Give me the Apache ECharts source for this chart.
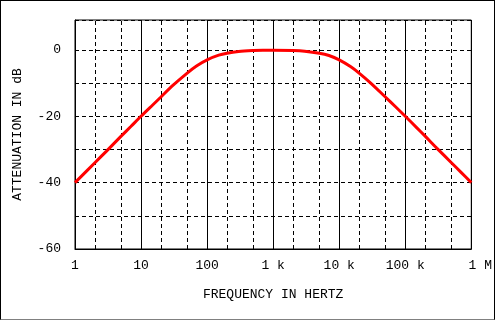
<!DOCTYPE html>
<html>
<head>
<meta charset="utf-8">
<script src="https://cdn.jsdelivr.net/npm/echarts@6/dist/echarts.min.js"></script>
<style>
html,body{margin:0;padding:0;background:#fff;}
#wrap{position:relative;width:495px;height:320px;}
#chart{width:495px;height:320px;}
#frame{position:absolute;left:0;top:0;width:495px;height:320px;box-sizing:border-box;border:1px solid #000;border-bottom-color:#808080;pointer-events:none;}
</style>
</head>
<body>
<div id="wrap"><div id="chart"></div><div id="frame"></div></div>
<script>
const freqs = [1,2,3,5,7,10,15,20,30,50,70,100,150,200,300,500,700,1000,2000,3000,5000,7000,10000,15000,20000,30000,50000,70000,100000,150000,200000,300000,500000,700000,1000000];
const atten = [-40,-34,-30.5,-26,-23.1,-20,-16.6,-14.2,-10.8,-7,-4.8,-3,-1.6,-1,-0.5,-0.2,-0.1,-0.1,-0.2,-0.4,-1,-1.7,-3,-5.1,-7,-10,-14.2,-17,-20,-23.5,-26,-29.6,-34,-36.9,-40];
const xTickValues = [1,10,100,1000,10000,100000,1000000];
const xTickLabels = ['1','10','100','1 k','10 k','100 k','1 M'];
const yTickLabels = [-60,-40,-20,0];
const minorGrid = [2,5,20,50,200,500,2000,5000,20000,50000,200000,500000];

const font = 'Liberation Mono';
const chart = echarts.init(document.getElementById('chart'));
chart.setOption({
  animation:false,
  backgroundColor:'#fff',
  grid:{left:75,right:20,top:20,bottom:71,show:true,borderColor:'#000',borderWidth:1,backgroundColor:'transparent'},
  xAxis:{
    type:'log',logBase:10,min:1,max:1000000,
    name:'FREQUENCY IN HERTZ',nameLocation:'middle',nameGap:39,
    nameTextStyle:{fontFamily:font,fontSize:13,color:'#000'},
    axisLine:{show:true,onZero:false,lineStyle:{color:'#000',width:1}},
    axisTick:{show:false},
    axisLabel:{fontFamily:font,fontSize:13,color:'#000',margin:10,
      formatter:function(v){
        const i = xTickValues.findIndex(t=>Math.abs(t-v)/t<1e-6);
        if(i<0) return '';
        if(i===xTickValues.length-1) return '{r|'+xTickLabels[i]+'}';
        return xTickLabels[i];
      },
      rich:{r:{fontFamily:font,fontSize:13,color:'#000',padding:[0,0,0,18]}}
    },
    splitLine:{show:true,lineStyle:{color:'#000',width:1,type:'solid'}},
    minorSplitLine:{show:false}
  },
  yAxis:{
    type:'value',min:-60,max:9,interval:10,
    name:'ATTENUATION IN dB',nameLocation:'middle',nameGap:51,
    nameTextStyle:{fontFamily:font,fontSize:13,color:'#000'},
    axisLine:{show:true,onZero:false,lineStyle:{color:'#000',width:1}},
    axisTick:{show:false},
    axisLabel:{fontFamily:font,fontSize:13,color:'#000',margin:14,
      formatter:function(v){ return yTickLabels.indexOf(v)>=0 ? String(v) : ''; }
    },
    splitLine:{show:true,lineStyle:{color:'#000',width:1,type:[4,3]}}
  },
  series:[{
    type:'line',
    data:freqs.map((f,i)=>[f,atten[i]]),
    showSymbol:false,
    smooth:0.3,
    lineStyle:{color:'#ff0000',width:3},
    z:5,
    markLine:{
      silent:true,symbol:['none','none'],label:{show:false},
      lineStyle:{color:'#000',width:1,type:[4,3]},
      data:minorGrid.map(v=>({xAxis:v})),
      z:1
    }
  }]
});
</script>
</body>
</html>
